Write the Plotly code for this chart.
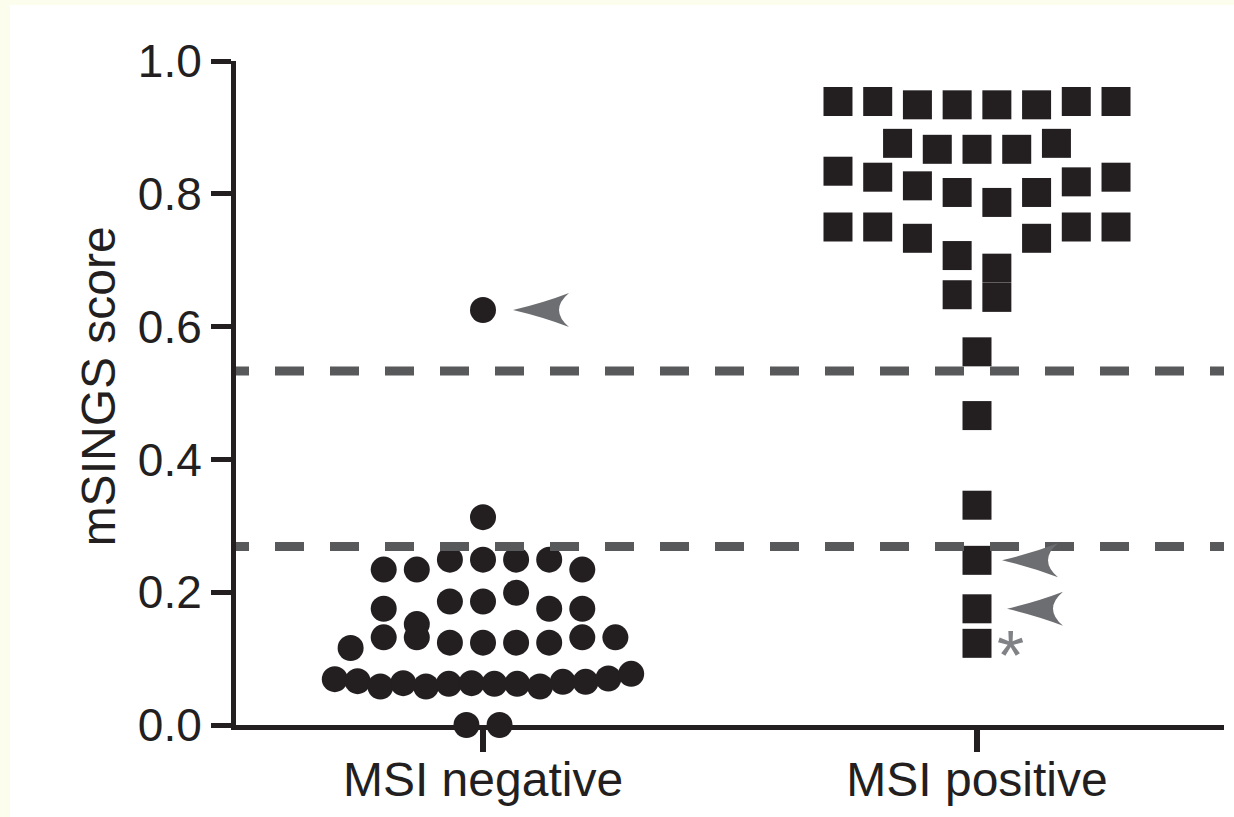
import plotly.graph_objects as go

# ---------------- data ----------------
categories = ["MSI negative", "MSI positive"]

# values listed in table order (row by row, left to right as plotted)
neg_scores = [0.625, 0.313,
              0.234, 0.234, 0.249, 0.249, 0.249, 0.249, 0.234,
              0.175, 0.152, 0.186, 0.186, 0.199, 0.175, 0.175,
              0.116, 0.132, 0.132, 0.124, 0.124, 0.124, 0.124, 0.132, 0.132,
              0.069, 0.066, 0.058, 0.063, 0.058, 0.062, 0.063, 0.062, 0.062,
              0.058, 0.065, 0.065, 0.070, 0.077,
              0.000, 0.000]

pos_scores = [0.939, 0.939, 0.934, 0.934, 0.934, 0.934, 0.939, 0.939,
              0.876, 0.867, 0.867, 0.867, 0.876,
              0.834, 0.825, 0.812, 0.802, 0.787, 0.802, 0.818, 0.825,
              0.750, 0.750, 0.733, 0.707, 0.688, 0.733, 0.750, 0.750,
              0.648, 0.644,
              0.562, 0.466, 0.331, 0.248, 0.175, 0.123]

thresholds = [0.533, 0.269]

# flagged samples: (group index, score)
arrow_points = [(0, 0.625), (1, 0.248), (1, 0.175)]
asterisk_point = (1, 0.123)

# ---------------- styling ----------------
INK = "#231f20"
DASH_GRAY = "#58595b"
ARROW_GRAY = "#6d6e71"
STAR_GRAY = "#808285"
FONT = "Liberation Sans, Arial, sans-serif"


def dot_offsets(values, spacing, max_width, gap=0.03, span=0.065):
    """Scatter-dot-plot layout: bin close values into rows, centre each row."""
    order = sorted(range(len(values)), key=lambda i: -values[i])
    rows = []
    for i in order:
        if rows:
            row = rows[-1]
            if (values[row[-1]] - values[i] <= gap + 1e-9 and
                    values[row[0]] - values[i] <= span + 1e-9):
                row.append(i)
                continue
        rows.append([i])
    offs = [0.0] * len(values)
    for row in rows:
        members = sorted(row)
        n = len(members)
        s = spacing if n < 2 else min(spacing, max_width / (n - 1))
        for k, i in enumerate(members):
            offs[i] = (k - (n - 1) / 2) * s
    return offs


groups = [neg_scores, pos_scores]
spacings = [0.067, 0.0804]
symbols = ["circle", "square"]
sizes = [26, 29]

xs_all = []
fig = go.Figure()
for gi, vals in enumerate(groups):
    offs = dot_offsets(vals, spacings[gi], 0.6)
    xs = [gi + o for o in offs]
    xs_all.append(xs)
    fig.add_trace(go.Scatter(
        x=xs, y=vals, mode="markers", name=categories[gi],
        marker=dict(symbol=symbols[gi], size=sizes[gi], color=INK,
                    line=dict(width=0)),
        cliponaxis=False, showlegend=False, hoverinfo="y"))


def point_x(gi, val):
    vals = groups[gi]
    idx = min(range(len(vals)), key=lambda i: abs(vals[i] - val))
    return xs_all[gi][idx]


shapes = []
# page border tint (cream strip on top/left) with white page
shapes.append(dict(type="rect", xref="paper", yref="paper",
                   x0=(10 - 236) / 988, x1=(1240 - 236) / 988,
                   y0=(725 - 830) / 664, y1=(725 - 5) / 664,
                   fillcolor="white", line=dict(width=0), layer="below"))

# threshold dashed lines
for t in thresholds:
    shapes.append(dict(type="line", xref="x", yref="y",
                       x0=-0.5 - 16 / 494, x1=1.5, y0=t, y1=t,
                       line=dict(color=DASH_GRAY, width=9, dash="29px,26px"),
                       layer="above"))

# arrowheads pointing at flagged samples
arrow_offsets = [30, 25, 30]
for (gi, val), dx in zip(arrow_points, arrow_offsets):
    xa = point_x(gi, val)
    path = (f"M {dx},0 Q {dx + 30},7 {dx + 56},17 "
            f"Q {dx + 36},0 {dx + 56},-17 Q {dx + 30},-7 {dx},0 Z")
    shapes.append(dict(type="path", xref="x", yref="y",
                       xsizemode="pixel", ysizemode="pixel",
                       xanchor=xa, yanchor=val, path=path,
                       fillcolor=ARROW_GRAY, line=dict(width=0)))

annotations = [
    dict(text="mSINGS score", textangle=-90, xref="paper", yref="paper",
         x=(98 - 236) / 988, y=0.51, showarrow=False,
         xanchor="center", yanchor="middle",
         font=dict(family=FONT, size=48, color=INK)),
    dict(text="*", xref="x", yref="y",
         x=point_x(*asterisk_point), y=asterisk_point[1],
         xshift=33, yshift=-13, showarrow=False,
         xanchor="center", yanchor="middle",
         font=dict(family=FONT, size=70, color=STAR_GRAY)),
]

fig.update_layout(
    width=1234, height=817,
    margin=dict(l=236, r=10, t=61, b=92, autoexpand=False),
    paper_bgcolor="#fdfdee", plot_bgcolor="white",
    shapes=shapes, annotations=annotations,
    font=dict(family=FONT, color=INK),
)
fig.update_xaxes(range=[-0.5, 1.5], tickvals=[0, 1], ticktext=categories,
                 showgrid=False, zeroline=False, showline=True,
                 linecolor=INK, linewidth=5, ticks="outside", ticklen=22,
                 tickwidth=6, tickcolor=INK, ticklabelstandoff=-14,
                 tickfont=dict(family=FONT, size=48, color=INK))
fig.update_yaxes(range=[0, 1], tickvals=[0, 0.2, 0.4, 0.6, 0.8, 1.0],
                 tickformat=".1f", showgrid=False, zeroline=False,
                 showline=True, linecolor=INK, linewidth=5,
                 ticks="outside", ticklen=20, tickwidth=5, tickcolor=INK,
                 tickfont=dict(family=FONT, size=46, color=INK))

fig.write_html("out.html",
               config={"displayModeBar": False},
               post_script="document.body.style.margin='0';"
                           "document.body.style.background='#fdfdee';")
